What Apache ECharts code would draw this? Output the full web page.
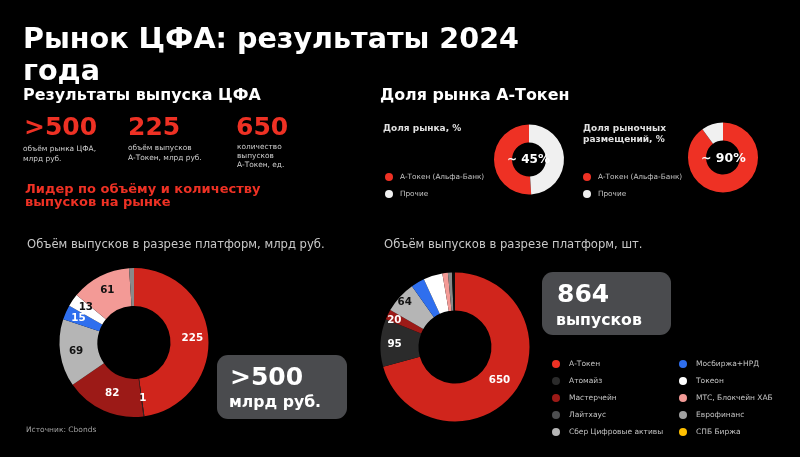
<!DOCTYPE html>
<html>
<head>
<meta charset="utf-8">
<style>html,body{margin:0;padding:0;background:#000}#chart{width:800px;height:457px}</style>
<script src="https://cdn.jsdelivr.net/npm/echarts@6/dist/echarts.min.js"></script>
</head>
<body>
<div id="chart"></div>
<script>
var platforms = ['А-Токен','Атомайз','Мастерчейн','Лайтхаус','Сбер Цифровые активы','Мосбиржа+НРД','Токеон','МТС, Блокчейн ХАБ','Еврофинанс','СПБ Биржа'];
var platformColors = ['#d0251c','#2b2b2b','#9c1a17','#4d4e50','#b5b5b5','#2f6fee','#ffffff','#f39a96','#8a8a8a','#ffc000'];
var legendColors = ['#ee3124','#2b2b2b','#9c1a17','#4d4e50','#b5b5b5','#2f6fee','#ffffff','#f39a96','#a0a0a0','#ffc000'];
var volumeValues = [225,1,82,0,69,15,13,61,5,0];
var countValues = [650,95,20,0,64,27,38,11,8,6];
var shareNames = ['А-Токен (Альфа-Банк)','Прочие'];
var shareColors = ['#ee3124','#f0f0f0'];
var marketShare = [51,49];
var placementShare = [90,10];

var font = 'DejaVu Sans';
var chart = echarts.init(document.getElementById('chart'));

function text(x, y, str, size, color, weight, lineHeight) {
    return {
        left: x, top: y, text: str, padding: 0,
        textStyle: {fontFamily: font, fontSize: size, color: color, fontWeight: weight || 'normal', lineHeight: lineHeight || Math.round(size * 1.2)}
    };
}

function bigDonut(values, center, labelColors, hidden, lastColor, offsets) {
    return {
        type: 'pie', center: center, radius: [36.5, 74.5], startAngle: 90, clockwise: true,
        animation: false, silent: true, legendHoverLink: false, minAngle: 0, avoidLabelOverlap: false,
        labelLayout: {hideOverlap: false},
        data: values.map(function (v, i) {
            return {
                name: platforms[i], value: v,
                itemStyle: {color: (i == 9 && lastColor) ? lastColor : platformColors[i]},
                label: {show: v > 0 && hidden.indexOf(i) < 0, color: labelColors[i], offset: (offsets && offsets[i]) || [0, 0]}
            };
        }),
        label: {position: 'inside', formatter: '{c}', fontFamily: font, fontSize: 10.3, fontWeight: 'bold', overflow: 'none'},
        labelLine: {show: false}
    };
}

function smallDonut(values, center, clockwise) {
    return {
        type: 'pie', center: center, radius: [17, 35], startAngle: 90, clockwise: clockwise, animation: false, silent: true,
        data: values.map(function (v, i) {
            return {name: shareNames[i], value: v, itemStyle: {color: shareColors[i]}};
        }),
        label: {show: false}, labelLine: {show: false}
    };
}

function legend(names, colors, x, y, gap, size, textGap) {
    return {
        left: x, top: y, orient: 'vertical', icon: 'circle', itemWidth: 8, itemHeight: 8, itemGap: gap,
        padding: 0, selectedMode: false,
        data: names.map(function (n, i) { return {name: n, itemStyle: {color: colors[i]}}; }),
        textStyle: {fontFamily: font, fontSize: size, color: '#c4c4c4', padding: [0, 0, 0, textGap]}
    };
}

var labelColors = ['#fff','#fff','#fff','#fff','#111','#fff','#111','#111','#fff','#fff'];

var option = {
    backgroundColor: '#000',
    animation: false,
    title: [
        text(23, 25, 'Рынок ЦФА: результаты 2024\nгода', 28.6, '#fff', 'bold', 32),
        text(23, 86, 'Результаты выпуска ЦФА', 15.9, '#fff', 'bold'),
        text(380, 86, 'Доля рынка А-Токен', 15.9, '#fff', 'bold'),
        text(24, 113, '>500', 25, '#ee3124', 'bold'),
        text(128, 113, '225', 25, '#ee3124', 'bold'),
        text(236, 113, '650', 25, '#ee3124', 'bold'),
        text(23, 144, 'объём рынка ЦФА,\nмлрд руб.', 7.4, '#d0d0d0', 'normal', 10),
        text(128, 143, 'объём выпусков\nА-Токен, млрд руб.', 7.4, '#d0d0d0', 'normal', 10),
        text(237, 143, 'количество\nвыпусков\nА-Токен, ед.', 7.4, '#d0d0d0', 'normal', 9),
        text(25, 183, 'Лидер по объёму и количеству\nвыпусков на рынке', 13, '#ee3124', 'bold', 13),
        text(383, 123, 'Доля рынка, %', 9, '#e0e0e0', 'bold'),
        text(583, 123, 'Доля рыночных\nразмещений, %', 9, '#e0e0e0', 'bold', 11),
        text(27, 238, 'Объём выпусков в разрезе платформ, млрд руб.', 11.6, '#c8c8c8'),
        text(384, 238, 'Объём выпусков в разрезе платформ, шт.', 11.6, '#c8c8c8'),
        text(26, 426, 'Источник: Cbonds', 7.5, '#a0a0a0'),
        text(230, 363, '>500', 25, '#fff', 'bold'),
        text(229, 393, 'млрд руб.', 15.7, '#fff', 'bold'),
        text(557, 280, '864', 25, '#fff', 'bold'),
        text(556, 311, 'выпусков', 15.7, '#fff', 'bold'),
        text(507, 153, '~ 45%', 12, '#fff', 'bold'),
        text(701, 151, '~ 90%', 12.5, '#fff', 'bold')
    ],
    legend: [
        legend(shareNames, shareColors, 385, 173, 9, 7.3, 2),
        legend(shareNames, shareColors, 583, 173, 9, 7.3, 2),
        legend(platforms.slice(0, 5), legendColors.slice(0, 5), 552, 360, 9, 7.5, 4),
        legend(platforms.slice(5), legendColors.slice(5), 679, 360, 9, 7.5, 4)
    ],
    graphic: [
        {type: 'rect', z: -1, shape: {x: 217, y: 355, width: 130, height: 64, r: 11}, style: {fill: '#4a4b4e'}},
        {type: 'rect', z: -1, shape: {x: 542, y: 272, width: 129, height: 63, r: 11}, style: {fill: '#4a4b4e'}}
    ],
    series: [
        bigDonut(volumeValues, [134, 342.5], labelColors, [8], null, {1: [1, -2], 2: [2, -3], 5: [-2, 0], 6: [0, -2]}),
        bigDonut(countValues, [455, 347], labelColors, [5, 6, 7, 8, 9], '#0d0d0d', {0: [-2, -2], 1: [-2, 1], 2: [-8, -1], 4: [-7, -5]}),
        smallDonut(marketShare, [529, 159.5], false),
        smallDonut(placementShare, [723, 157.5], true)
    ]
};
chart.setOption(option);
</script>
</body>
</html>
